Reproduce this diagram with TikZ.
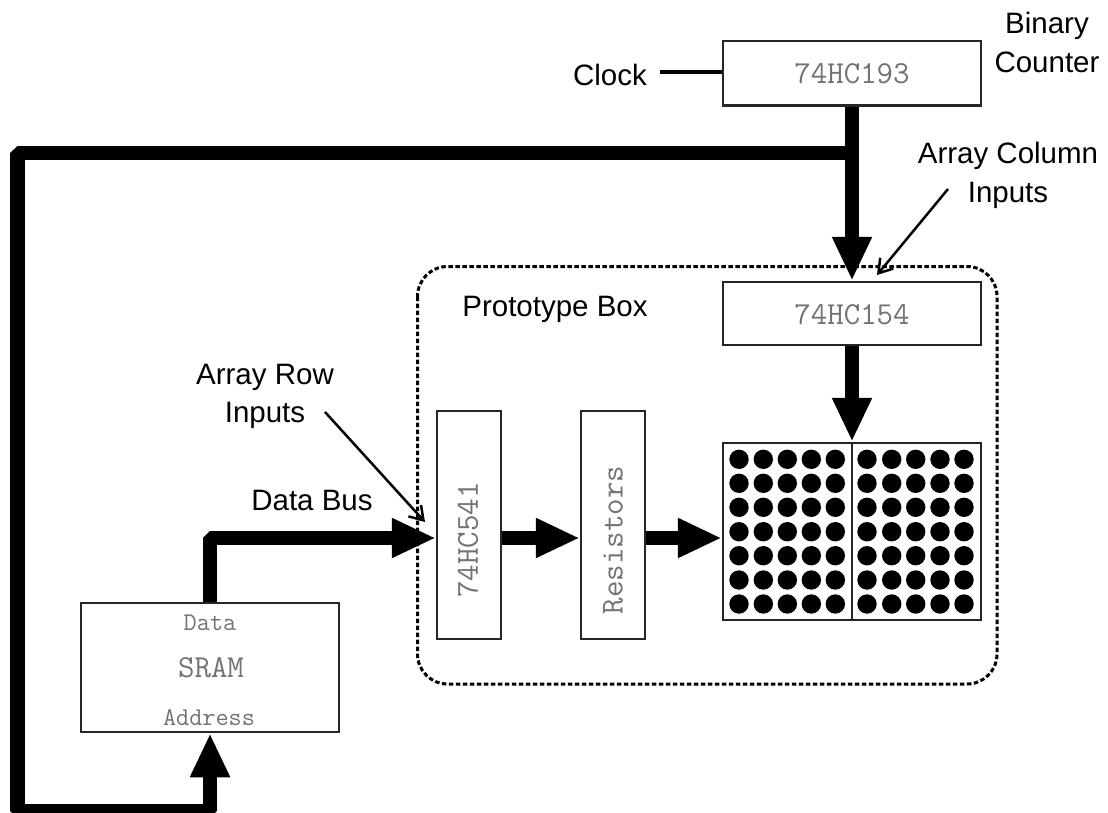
\documentclass[tikz,border=0pt]{standalone}
\usepackage{fontspec}
\setmainfont{Liberation Sans}
\usetikzlibrary{arrows.meta}
\tikzset{
  chip/.style={draw=black!85,line width=2.5pt,fill=white,inner sep=0pt},
  chiptext/.style={inner sep=0pt,text=black!55,font=\fontsize{32}{32}\selectfont\ttfamily},
  small/.style={inner sep=0pt,text=black!55,font=\fontsize{25.5}{25.5}\selectfont\ttfamily},
  lbl/.style={inner sep=0pt,font=\fontsize{29.5}{29.5}\selectfont},
  bus/.style={line width=14.5pt,line join=bevel,-{Triangle[length=44pt,width=37pt]}},
  note/.style={line width=2.5pt,-{Straight Barb[length=13pt,width=17pt,line width=2.5pt]}},
  led/.style={circle,fill=black,minimum size=19.4pt,inner sep=0pt}
}
\begin{document}
\begin{tikzpicture}[x=1pt,y=-1pt]
\useasboundingbox (0,0) rectangle (1108,813);
\fill[white] (0,0) rectangle (1108,813);
% prototype box
\draw[line width=3pt,dash pattern=on 4.5pt off 2.5pt,rounded corners=30pt] (417.5,266.5) rectangle (997,684);
% nodes
\node[chip,minimum width=258pt,minimum height=64.5pt] (counter) at (852,73.5) {};
\node[chiptext] (countertext) at (852,74) {74HC193};
\node[chip,minimum width=258pt,minimum height=63pt] (dec) at (852,313.5) {};
\node[chiptext] (dectext) at (852,315) {74HC154};
\node[chip,minimum width=64pt,minimum height=228pt] (buf) at (469,525) {};
\node[chiptext,rotate=90] (buftext) at (468,540) {74HC541};
\node[chip,minimum width=64pt,minimum height=228pt] (res) at (613,525) {};
\node[chiptext,rotate=90] (restext) at (613,540) {Resistors};
\node[chip,minimum width=258pt,minimum height=129pt] (sram) at (210,667.5) {};
\node[small] (sdata) at (210,623) {Data};
\node[chiptext] (sname) at (211,668) {SRAM};
\node[small] (saddr) at (209,718) {Address};
% matrix
\node[draw=black!85,line width=2.5pt,minimum width=258pt,minimum height=177pt,inner sep=0pt] (mat) at (852,531.5) {};
\draw[line width=2.5pt,draw=black!85] (mat.north) -- (mat.south);
\foreach \y in {459.3,483.3,507.3,531.7,555.7,580,604}
  \foreach \x in {739,763.3,787.3,811.3,835.3,867,891.7,915.7,940,964}
    \node[led] at (\x,\y) {};
% labels
\node[lbl] (clock) at (610,75) {Clock};
\node[lbl] (bin1) at (1047,26) {Binary};
\node[lbl] (bin2) at (1047,62.5) {Counter};
\node[lbl] (col1) at (1008,156) {Array Column};
\node[lbl] (col2) at (1008,195) {Inputs};
\node[lbl] (row1) at (265,377) {Array Row};
\node[lbl] (row2) at (265,415) {Inputs};
\node[lbl] (dbus) at (312,500) {Data Bus};
\node[lbl] (proto) at (555,309) {Prototype Box};
% connector coordinates
\coordinate (clkend) at (660,72);
\coordinate (junction) at (852,153);
\coordinate (tl) at (17.5,153);
\coordinate (bl) at (17.5,811);
\coordinate (bm) at (sram.south |- bl);
\coordinate (dm) at (210,538);
\coordinate (colA) at (948,189);
\coordinate (colB) at (877,275);
\coordinate (rowA) at (325,412);
\coordinate (rowB) at (425,522);
% connectors
\draw[line width=4pt] (clkend) -- (counter.west |- clkend);
\draw[bus] (counter.south) -- (dec.north);
\draw[bus] (junction) -- (tl) -- (bl) -- (bm) -- (sram.south);
\draw[bus] (dec.south) -- (mat.north);
\draw[bus] (sram.north) -- (dm) -- (buf.west |- dm);
\draw[bus] (buf.east |- dm) -- (res.west |- dm);
\draw[bus] (res.east |- dm) -- (mat.west |- dm);
\draw[note] (colA) -- (colB);
\draw[note] (rowA) -- (rowB);
\end{tikzpicture}
\end{document}
